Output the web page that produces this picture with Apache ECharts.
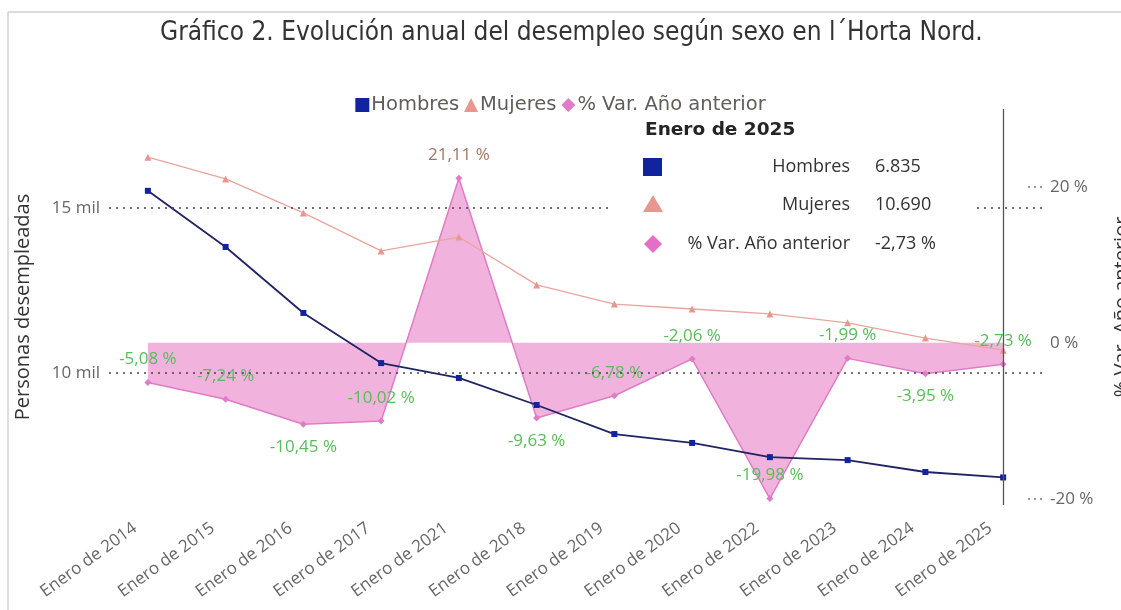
<!DOCTYPE html>
<html><head><meta charset="utf-8">
<script src="https://cdn.jsdelivr.net/npm/echarts@6/dist/echarts.min.js"></script>
<style>html,body{margin:0;padding:0;background:#fff}#c{width:1121px;height:610px}</style>
</head><body><div id="c"></div>
<script>
const categories = ['Enero de 2014','Enero de 2015','Enero de 2016','Enero de 2017','Enero de 2021','Enero de 2018','Enero de 2019','Enero de 2020','Enero de 2022','Enero de 2023','Enero de 2024','Enero de 2025'];
const hombres = [15520,13820,11820,10300,9850,9030,8150,7880,7450,7360,7000,6835];
const mujeres = [16540,15880,14850,13700,14120,12670,12090,11940,11790,11520,11060,10690];
const variacion = [-5.08,-7.24,-10.45,-10.02,21.11,-9.63,-6.78,-2.06,-19.98,-1.99,-3.95,-2.73];
const leftTicks = [10000,15000];
const rightTicks = [-20,0,20];
const labelSide = ['top','top','bottom','top','top','bottom','top','top','top','top','bottom','top'];

const UI = "'Open Sans', 'Noto Sans', sans-serif";
const DIN = "'DejaVu Sans Condensed', 'Liberation Sans Narrow', sans-serif";
const fmtInt = v => String(v).replace(/\B(?=(\d{3})+(?!\d))/g, '.');
const fmtPct = v => v.toFixed(2).replace('.', ',') + ' %';
const last = categories.length - 1;

const chart = echarts.init(document.getElementById('c'), null, {renderer:'canvas'});
const Z = 100;
const tipFont = "18px 'Open Sans', sans-serif";
chart.setOption({
  animation: false,
  backgroundColor: '#fff',
  title: {
    text: 'Gráfico 2. Evolución anual del desempleo según sexo en l´Horta Nord.',
    left: 155, top: 15,
    textStyle: {fontFamily: DIN, fontSize: 26, fontWeight: 'normal', color: '#333'}
  },
  legend: {
    top: 90, left: 'center', itemGap: 5, itemWidth: 14, itemHeight: 14,
    textStyle: {fontFamily: "'DejaVu Sans', sans-serif", fontSize: 19.5, color: '#605E5C', padding: [0,0,0,-3]},
    data: [
      {name: 'Hombres', icon: 'rect'},
      {name: 'Mujeres', icon: 'triangle'},
      {name: '% Var. Año anterior', icon: 'diamond'}
    ]
  },
  grid: {left: 109, right: 79, top: 109, bottom: 105, outerBoundsMode: 'none', containLabel: false},
  xAxis: {
    type: 'category', data: categories, boundaryGap: true,
    axisLine: {show: false}, axisTick: {show: false},
    axisLabel: {rotate: 36, interval: 0, margin: 12, padding: [0, 16, 0, 0], color: '#666', fontFamily: UI, fontSize: 17}
  },
  yAxis: [
    {
      type: 'value', min: 6000, max: 18000,
      name: 'Personas desempleadas', nameLocation: 'middle', nameGap: 76, nameRotate: 90,
      nameTextStyle: {fontFamily: UI, fontSize: 20, color: '#333'},
      axisLine: {show: false}, axisTick: {show: false}, splitLine: {show: false},
      axisLabel: {customValues: leftTicks, formatter: v => (v/1000) + ' mil', color: '#666', fontFamily: UI, fontSize: 17, margin: 9}
    },
    {
      type: 'value', min: -20.8, max: 30, position: 'right',
      name: '% Var. Año anterior', nameLocation: 'middle', nameGap: 70, nameRotate: 90,
      nameTextStyle: {fontFamily: UI, fontSize: 20, color: '#333'},
      axisLine: {show: false}, splitLine: {show: false},
      axisTick: {show: true, inside: true, length: 14, customValues: [-20, 20], lineStyle: {color: '#777', type: [2,4], width: 1.5}},
      axisLabel: {customValues: rightTicks, formatter: v => v + ' %', color: '#666', fontFamily: UI, fontSize: 17, margin: 8}
    }
  ],
  series: [
    {
      name: '% Var. Año anterior', type: 'line', yAxisIndex: 1, z: 2,
      symbol: 'diamond', symbolSize: 7,
      itemStyle: {color: '#E07BC8'},
      lineStyle: {color: '#E07BC8', width: 1.5},
      areaStyle: {color: '#F1B3DE', opacity: 1},
      label: {show: true, distance: 11, fontFamily: UI, fontSize: 17, formatter: p => fmtPct(p.value)},
      data: variacion.map((v, i) => ({value: v, label: {position: labelSide[i], color: v > 0 ? '#A3735F' : '#58BC58'}}))
    },
    {
      name: 'Hombres', type: 'line', z: 4,
      symbol: 'rect', symbolSize: 6,
      itemStyle: {color: '#12239E'},
      lineStyle: {color: '#1F2462', width: 1.8},
      data: hombres,
      markLine: {
        silent: true, symbol: ['none','none'], label: {show: false}, animation: false,
        data: [
          ...leftTicks.map(v => ({yAxis: v, lineStyle: {type: [2,5], color: '#444', width: 1.5}})),
          {xAxis: categories[last], lineStyle: {type: 'solid', color: '#555', width: 1.3}}
        ]
      }
    },
    {
      name: 'Mujeres', type: 'line', z: 3,
      symbol: 'triangle', symbolSize: 7,
      itemStyle: {color: '#E8968E'},
      lineStyle: {color: '#E8A59E', width: 1.3},
      data: mujeres
    }
  ],
  graphic: [
    {type: 'line', shape: {x1: 8, y1: 12, x2: 1121, y2: 12}, style: {stroke: '#d0d0d0', lineWidth: 1.5}, z: 50},
    {type: 'line', shape: {x1: 8, y1: 12, x2: 8, y2: 610}, style: {stroke: '#d0d0d0', lineWidth: 1.5}, z: 50},
    {
      type: 'group', x: 612, y: 112, z: Z,
      children: [
        {type: 'rect', z: Z, shape: {x: 0, y: 0, width: 364, height: 151}, style: {fill: '#fff'}},
        {type: 'text', z: Z+1, x: 33, y: 18, style: {text: categories[last], font: "bold 18.5px 'DejaVu Sans', sans-serif", fill: '#252423', verticalAlign: 'middle'}},
        {type: 'rect', z: Z+1, shape: {x: 31, y: 46, width: 19, height: 18}, style: {fill: '#12239E'}},
        {type: 'text', z: Z+1, x: 238, y: 55, style: {text: 'Hombres', font: tipFont, fill: '#333', align: 'right', verticalAlign: 'middle'}},
        {type: 'text', z: Z+1, x: 263, y: 55, style: {text: fmtInt(hombres[last]), font: tipFont, fill: '#333', verticalAlign: 'middle'}},
        {type: 'polygon', z: Z+1, shape: {points: [[41, 83], [51, 100], [31, 100]]}, style: {fill: '#E8968E'}},
        {type: 'text', z: Z+1, x: 238, y: 93, style: {text: 'Mujeres', font: tipFont, fill: '#333', align: 'right', verticalAlign: 'middle'}},
        {type: 'text', z: Z+1, x: 263, y: 93, style: {text: fmtInt(mujeres[last]), font: tipFont, fill: '#333', verticalAlign: 'middle'}},
        {type: 'polygon', z: Z+1, shape: {points: [[41, 123], [50, 132], [41, 141], [32, 132]]}, style: {fill: '#E56EC6'}},
        {type: 'text', z: Z+1, x: 238, y: 132, style: {text: '% Var. Año anterior', font: tipFont, fill: '#333', align: 'right', verticalAlign: 'middle'}},
        {type: 'text', z: Z+1, x: 263, y: 132, style: {text: fmtPct(variacion[last]), font: tipFont, fill: '#333', verticalAlign: 'middle'}}
      ]
    }
  ]
});
</script></body></html>
